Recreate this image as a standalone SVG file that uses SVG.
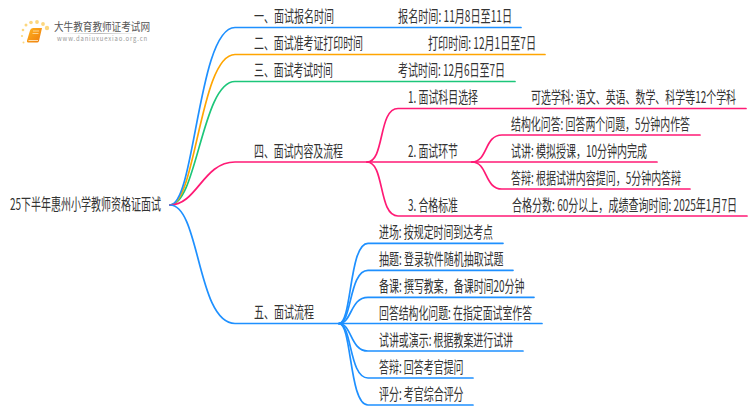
<svg xmlns="http://www.w3.org/2000/svg" width="750" height="410" viewBox="0 0 750 410">
<style>
text{font-family:"Noto Sans CJK SC","Noto Sans",sans-serif;font-size:16px;fill:#333;}
path.c{fill:none;stroke-width:1.7;stroke-linecap:round;}
.b{stroke:#1e90ff}.o{stroke:#ffa500}.g{stroke:#1cc67a}.p{stroke:#ff1a75}
.d{fill:#fcd77f}
</style>
<defs><linearGradient id="bk" x1="0" y1="0" x2="1" y2="1"><stop offset="0" stop-color="#ffb31f"/><stop offset="1" stop-color="#ee7c0c"/></linearGradient>
<linearGradient id="sh" x1="0" y1="0" x2="1" y2="0"><stop offset="0" stop-color="#ccc" stop-opacity="0"/><stop offset=".5" stop-color="#bbb"/><stop offset="1" stop-color="#ccc" stop-opacity="0"/></linearGradient></defs>
<rect width="750" height="410" fill="#fff"/>
<g id="logo">
<circle class="d" cx="47" cy="28" r="2.2"/><circle class="d" cx="43" cy="24" r="1.9"/><circle class="d" cx="37" cy="22" r="1.9"/><circle class="d" cx="31" cy="22.500" r="1.800"/><circle class="d" cx="26" cy="25" r="1.500"/><circle class="d" cx="23" cy="30" r="1.300"/><circle class="d" cx="22" cy="36" r="1.100"/><circle class="d" cx="23.500" cy="42.500" r="1"/>
<path d="M33 28h9l-3 13q-.5 1.500-2 1.500H28q-1.500 0-1-2l3-10q.5-2.500 3-2.500z" fill="url(#bk)"/>
<path d="M28.500 40.500h9.500" stroke="#ffe9c4" stroke-width=".9"/>
<path d="M33 31h6M32.500 33.500h6" stroke="#ffe2a8" stroke-width=".8"/>
<rect x="60" y="33" width="80" height="1" fill="url(#sh)"/>
<text x="54" y="31" textLength="96" lengthAdjust="spacingAndGlyphs" style="font-size:11px;fill:#555">大牛教育教师证考试网</text>
<text x="57" y="41" textLength="91" lengthAdjust="spacingAndGlyphs" style="font-size:7px;fill:#999;letter-spacing:1px">www.daniuxuexiao.org.cn</text>
</g>
<g id="connectors">
<path class="c g" d="M170 205C197 205 202 81.500 235 81.500H515"/>
<path class="c o" d="M170 205C196 205 200 54.500 235 54.500H545"/>
<path class="c b" d="M170 205C195 205 198 27.500 235 27.500H521"/>
<path class="c p" d="M170 205C197 205 203 162 235 162H472"/>
<path class="c b" d="M170 205C200 205 197 323.500 235 323.500H339"/>
<path class="c p" d="M367 162C385 162 378 108.500 398 108.500H746"/>
<path class="c p" d="M367 162C385 162 378 216 398 216H747"/>
<path class="c p" d="M472 162C488 162 484 135 502 135H700"/>
<path class="c p" d="M472 162H657"/>
<path class="c p" d="M472 162C488 162 484 189 502 189H690"/>
<path class="c b" d="M339 323.500C352 323.500 349 243.300 368 243.300H503"/>
<path class="c b" d="M339 323.500C352 323.500 349 270.300 368 270.300H513"/>
<path class="c b" d="M339 323.500C352 323.500 350 297.300 368 297.300H534"/>
<path class="c b" d="M339 323.500H542"/>
<path class="c b" d="M339 323.500C352 323.500 350 351 368 351H523"/>
<path class="c b" d="M339 323.500C352 323.500 349 378 368 378H473"/>
<path class="c b" d="M339 323.500C352 323.500 349 405 368 405H473"/>
</g>
<g id="nodes" transform="scale(.6667 1)">
<g id="root"><text x="15" y="210.500" textLength="226.500" lengthAdjust="spacingAndGlyphs">25下半年惠州小学教师资格证面试</text></g>
<g id="n1"><text x="381" y="22.500" textLength="120" lengthAdjust="spacingAndGlyphs">一、面试报名时间</text></g>
<g id="n1a"><text x="597" y="22.500" textLength="171" lengthAdjust="spacingAndGlyphs">报名时间: 11月8日至11日</text></g>
<g id="n2"><text x="381" y="49.500" textLength="163.500" lengthAdjust="spacingAndGlyphs">二、面试准考证打印时间</text></g>
<g id="n2a"><text x="642" y="49.500" textLength="162" lengthAdjust="spacingAndGlyphs">打印时间: 12月1日至7日</text></g>
<g id="n3"><text x="381" y="76.500" textLength="118.500" lengthAdjust="spacingAndGlyphs">三、面试考试时间</text></g>
<g id="n3a"><text x="597" y="76.500" textLength="160.500" lengthAdjust="spacingAndGlyphs">考试时间: 12月6日至7日</text></g>
<g id="n4"><text x="381" y="157" textLength="133.500" lengthAdjust="spacingAndGlyphs">四、面试内容及流程</text></g>
<g id="n41"><text x="612" y="103.500" textLength="105" lengthAdjust="spacingAndGlyphs">1. 面试科目选择</text></g>
<g id="n41a"><text x="796.500" y="103.500" textLength="307.500" lengthAdjust="spacingAndGlyphs">可选学科: 语文、英语、数学、科学等12个学科</text></g>
<g id="n42"><text x="612" y="157" textLength="75" lengthAdjust="spacingAndGlyphs">2. 面试环节</text></g>
<g id="n42a"><text x="766.500" y="130" textLength="268.500" lengthAdjust="spacingAndGlyphs">结构化问答: 回答两个问题，5分钟内作答</text></g>
<g id="n42b"><text x="766.500" y="157" textLength="204" lengthAdjust="spacingAndGlyphs">试讲: 模拟授课，10分钟内完成</text></g>
<g id="n42c"><text x="766.500" y="184" textLength="255" lengthAdjust="spacingAndGlyphs">答辩: 根据试讲内容提问，5分钟内答辩</text></g>
<g id="n43"><text x="612" y="211" textLength="75" lengthAdjust="spacingAndGlyphs">3. 合格标准</text></g>
<g id="n43a"><text x="768" y="211" textLength="337.500" lengthAdjust="spacingAndGlyphs">合格分数: 60分以上，成绩查询时间: 2025年1月7日</text></g>
<g id="n5"><text x="381" y="318.500" textLength="90" lengthAdjust="spacingAndGlyphs">五、面试流程</text></g>
<g id="n51"><text x="568.500" y="238.500" textLength="171" lengthAdjust="spacingAndGlyphs">进场: 按规定时间到达考点</text></g>
<g id="n52"><text x="568.500" y="265.500" textLength="186.750" lengthAdjust="spacingAndGlyphs">抽题: 登录软件随机抽取试题</text></g>
<g id="n53"><text x="568.500" y="292.500" textLength="218.250" lengthAdjust="spacingAndGlyphs">备课: 撰写教案，备课时间20分钟</text></g>
<g id="n54"><text x="568.500" y="319" textLength="229.500" lengthAdjust="spacingAndGlyphs">回答结构化问题: 在指定面试室作答</text></g>
<g id="n55"><text x="568.500" y="346" textLength="201" lengthAdjust="spacingAndGlyphs">试讲或演示: 根据教案进行试讲</text></g>
<g id="n56"><text x="568.500" y="373" textLength="126.750" lengthAdjust="spacingAndGlyphs">答辩: 回答考官提问</text></g>
<g id="n57"><text x="568.500" y="400" textLength="126.750" lengthAdjust="spacingAndGlyphs">评分: 考官综合评分</text></g>
</g>
</svg>
